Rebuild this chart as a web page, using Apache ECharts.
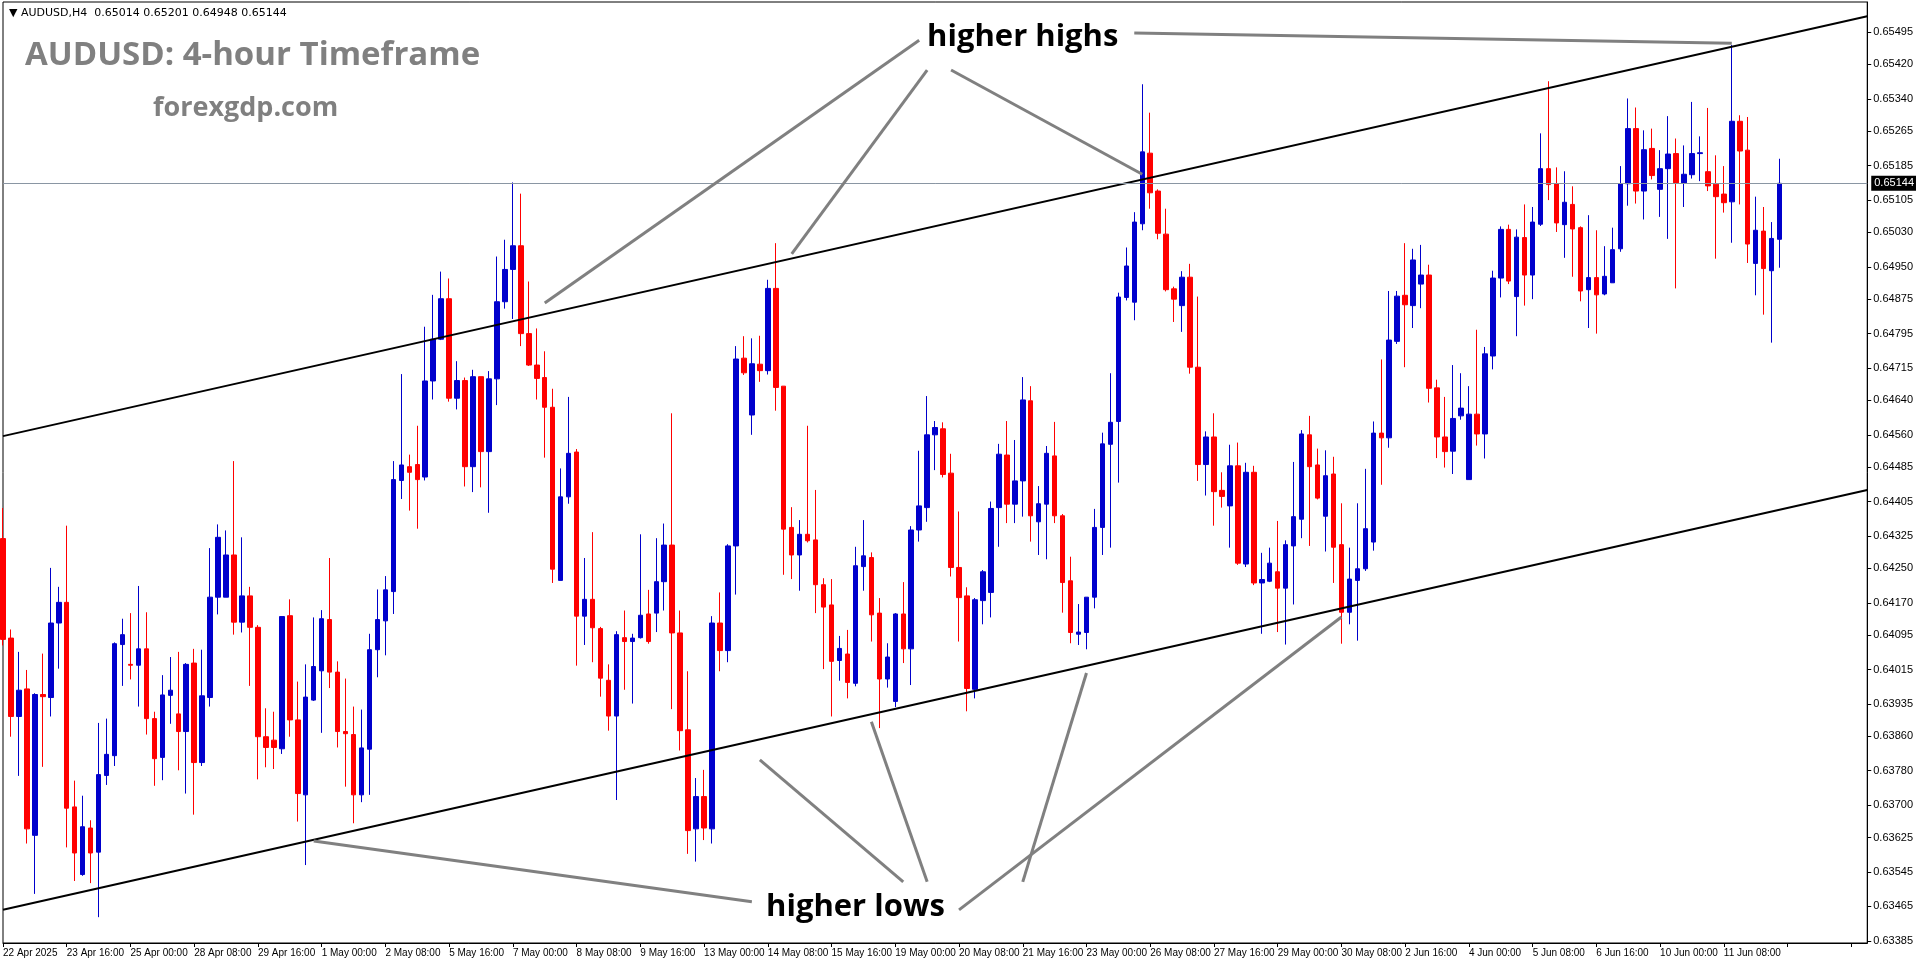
<!DOCTYPE html>
<html><head><meta charset="utf-8">
<script src="https://cdn.jsdelivr.net/npm/echarts@6/dist/echarts.min.js"></script>
<style>html,body{margin:0;padding:0;background:#fff}#c{width:1916px;height:964px}</style>
</head><body><div id="c"></div>
<script>
const xLabels = ["22 Apr 2025","23 Apr 16:00","25 Apr 00:00","28 Apr 08:00","29 Apr 16:00","1 May 00:00","2 May 08:00","5 May 16:00","7 May 00:00","8 May 08:00","9 May 16:00","13 May 00:00","14 May 08:00","15 May 16:00","19 May 00:00","20 May 08:00","21 May 16:00","23 May 00:00","26 May 08:00","27 May 16:00","29 May 00:00","30 May 08:00","2 Jun 16:00","4 Jun 00:00","5 Jun 08:00","6 Jun 16:00","10 Jun 00:00","11 Jun 08:00"];
const priceTicks = [0.63385,0.63465,0.63545,0.63625,0.63700,0.63780,0.63860,0.63935,0.64015,0.64095,0.64170,0.64250,0.64325,0.64405,0.64485,0.64560,0.64640,0.64715,0.64795,0.64875,0.64950,0.65030,0.65105,0.65185,0.65265,0.65340,0.65420,0.65495];
const lastPrice = 0.65144;
// [open, high, low, close]
const candles = [
[0.64319,0.64390,0.64071,0.64085],[0.64088,0.64108,0.63859,0.63906],[0.63906,0.64056,0.63768,0.63967],[0.63970,0.64014,0.63611,0.63645],
[0.63630,0.63960,0.63494,0.63957],[0.63957,0.64052,0.63789,0.63952],[0.63950,0.64251,0.63906,0.64123],[0.64123,0.64207,0.64017,0.64171],
[0.64171,0.64349,0.63602,0.63693],[0.63696,0.63757,0.63524,0.63589],[0.63539,0.63722,0.63536,0.63650],[0.63647,0.63665,0.63519,0.63589],
[0.63591,0.63891,0.63440,0.63771],[0.63769,0.63901,0.63747,0.63818],[0.63815,0.64078,0.63791,0.64075],[0.64073,0.64133,0.63977,0.64096],
[0.64027,0.64146,0.63992,0.64025],[0.64025,0.64209,0.63929,0.64063],[0.64063,0.64148,0.63864,0.63901],[0.63901,0.63917,0.63745,0.63808],
[0.63811,0.64002,0.63758,0.63956],[0.63955,0.64044,0.63889,0.63967],[0.63912,0.64056,0.63781,0.63871],[0.63871,0.64030,0.63727,0.64027],
[0.64030,0.64063,0.63678,0.63799],[0.63799,0.64061,0.63791,0.63954],[0.63950,0.64297,0.63929,0.64183],[0.64183,0.64352,0.64143,0.64322],
[0.64183,0.64338,0.64183,0.64281],[0.64281,0.64499,0.64096,0.64125],[0.64125,0.64322,0.64101,0.64186],[0.64186,0.64207,0.63977,0.64113],
[0.64113,0.64118,0.63760,0.63859],[0.63859,0.63925,0.63788,0.63834],[0.63851,0.63917,0.63784,0.63834],[0.63831,0.64138,0.63819,0.64138],
[0.64140,0.64178,0.63859,0.63898],[0.63898,0.63987,0.63662,0.63727],[0.63724,0.64027,0.63561,0.63951],[0.63944,0.64136,0.63942,0.64022],
[0.64012,0.64153,0.63868,0.64133],[0.64131,0.64274,0.63972,0.64009],[0.64009,0.64034,0.63834,0.63871],[0.63871,0.63994,0.63743,0.63866],
[0.63864,0.63929,0.63658,0.63724],[0.63724,0.63922,0.63707,0.63833],[0.63830,0.64098,0.63724,0.64061],[0.64061,0.64201,0.63997,0.64131],
[0.64128,0.64232,0.64048,0.64200],[0.64196,0.64499,0.64144,0.64456],[0.64454,0.64701,0.64411,0.64490],[0.64486,0.64514,0.64384,0.64473],
[0.64491,0.64581,0.64342,0.64456],[0.64462,0.64811,0.64454,0.64685],[0.64685,0.64885,0.64642,0.64782],[0.64782,0.64939,0.64780,0.64876],
[0.64876,0.64923,0.64637,0.64645],[0.64645,0.64731,0.64619,0.64686],[0.64686,0.64693,0.64440,0.64486],[0.64486,0.64711,0.64427,0.64695],
[0.64695,0.64695,0.64438,0.64521],[0.64521,0.64708,0.64379,0.64690],[0.64690,0.64974,0.64629,0.64869],[0.64869,0.65013,0.64853,0.64944],
[0.64944,0.65146,0.64829,0.64999],[0.64999,0.65120,0.64766,0.64795],[0.64795,0.64916,0.64720,0.64722],[0.64722,0.64807,0.64642,0.64691],
[0.64693,0.64754,0.64507,0.64624],[0.64624,0.64667,0.64216,0.64248],[0.64222,0.64482,0.64222,0.64416],[0.64416,0.64648,0.64400,0.64517],
[0.64520,0.64527,0.64024,0.64139],[0.64139,0.64274,0.64072,0.64178],[0.64178,0.64334,0.64032,0.64112],[0.64110,0.64114,0.63952,0.63995],
[0.63990,0.64027,0.63873,0.63907],[0.63907,0.64104,0.63712,0.64096],[0.64089,0.64152,0.63968,0.64080],[0.64080,0.64098,0.63936,0.64088],
[0.64089,0.64329,0.64087,0.64141],[0.64144,0.64200,0.64075,0.64080],[0.64146,0.64320,0.64102,0.64219],[0.64219,0.64354,0.64152,0.64304],
[0.64304,0.64610,0.63923,0.64100],[0.64100,0.64152,0.63827,0.63873],[0.63875,0.64011,0.63587,0.63641],[0.63645,0.63763,0.63569,0.63720],
[0.63720,0.63782,0.63619,0.63647],[0.63645,0.64139,0.63611,0.64123],[0.64123,0.64194,0.64011,0.64059],[0.64059,0.64306,0.64032,0.64302],
[0.64302,0.64766,0.64189,0.64736],[0.64738,0.64789,0.64699,0.64704],[0.64606,0.64784,0.64560,0.64725],[0.64724,0.64790,0.64683,0.64709],
[0.64709,0.64920,0.64700,0.64900],[0.64900,0.65005,0.64616,0.64670],[0.64673,0.64673,0.64235,0.64341],[0.64345,0.64392,0.64225,0.64281],
[0.64281,0.64362,0.64198,0.64329],[0.64329,0.64581,0.64310,0.64314],[0.64316,0.64432,0.64146,0.64212],[0.64212,0.64227,0.64016,0.64160],
[0.64165,0.64225,0.63906,0.64034],[0.64036,0.64093,0.63989,0.64064],[0.64051,0.64107,0.63948,0.63985],[0.63983,0.64300,0.63976,0.64256],
[0.64254,0.64362,0.64198,0.64279],[0.64275,0.64287,0.64080,0.64142],[0.64146,0.64181,0.63879,0.63993],[0.63993,0.64076,0.63973,0.64044],
[0.63941,0.64146,0.63928,0.64144],[0.64144,0.64218,0.64030,0.64063],[0.64063,0.64348,0.63979,0.64339],[0.64339,0.64523,0.64312,0.64395],
[0.64391,0.64650,0.64358,0.64560],[0.64560,0.64592,0.64478,0.64577],[0.64574,0.64589,0.64461,0.64468],[0.64471,0.64516,0.64231,0.64252],
[0.64252,0.64382,0.64080,0.64182],[0.64186,0.64206,0.63918,0.63971],[0.63969,0.64181,0.63948,0.64177],[0.64175,0.64246,0.64120,0.64242],
[0.64194,0.64405,0.64136,0.64389],[0.64391,0.64539,0.64300,0.64515],[0.64513,0.64592,0.64355,0.64399],[0.64399,0.64548,0.64355,0.64453],
[0.64453,0.64694,0.64370,0.64641],[0.64639,0.64673,0.64312,0.64372],[0.64358,0.64441,0.64281,0.64400],[0.64399,0.64534,0.64271,0.64517],
[0.64511,0.64590,0.64355,0.64372],[0.64372,0.64376,0.64147,0.64217],[0.64221,0.64277,0.64076,0.64101],[0.64097,0.64167,0.64072,0.64102],
[0.64101,0.64183,0.64062,0.64183],[0.64183,0.64388,0.64157,0.64345],[0.64345,0.64565,0.64281,0.64539],[0.64538,0.64703,0.64298,0.64589],
[0.64591,0.64890,0.64449,0.64880],[0.64879,0.64995,0.64872,0.64952],[0.64868,0.65077,0.64826,0.65054],[0.65050,0.65374,0.65035,0.65217],
[0.65214,0.65308,0.65085,0.65122],[0.65126,0.65130,0.65014,0.65028],[0.65026,0.65085,0.64893,0.64897],[0.64899,0.64904,0.64822,0.64875],
[0.64860,0.64940,0.64799,0.64926],[0.64926,0.64957,0.64702,0.64717],[0.64717,0.64881,0.64453,0.64491],[0.64491,0.64568,0.64419,0.64555],
[0.64555,0.64610,0.64349,0.64428],[0.64431,0.64473,0.64391,0.64417],[0.64395,0.64537,0.64298,0.64488],[0.64488,0.64542,0.64258,0.64262],
[0.64260,0.64495,0.64253,0.64473],[0.64473,0.64488,0.64211,0.64216],[0.64216,0.64286,0.64098,0.64224],[0.64220,0.64298,0.64218,0.64262],
[0.64242,0.64360,0.64102,0.64204],[0.64204,0.64315,0.64073,0.64305],[0.64302,0.64497,0.64166,0.64370],[0.64364,0.64571,0.64320,0.64562],
[0.64560,0.64604,0.64302,0.64486],[0.64490,0.64528,0.64410,0.64413],[0.64371,0.64524,0.64289,0.64465],[0.64469,0.64509,0.64216,0.64299],
[0.64305,0.64401,0.64075,0.64148],[0.64148,0.64298,0.64120,0.64225],[0.64222,0.64401,0.64082,0.64249],[0.64249,0.64481,0.64244,0.64342],
[0.64311,0.64591,0.64291,0.64564],[0.64564,0.64735,0.64444,0.64553],[0.64553,0.64894,0.64530,0.64780],[0.64777,0.64894,0.64771,0.64882],
[0.64884,0.65005,0.64717,0.64862],[0.64860,0.64992,0.64808,0.64966],[0.64910,0.65001,0.64854,0.64931],[0.64931,0.64955,0.64635,0.64668],
[0.64669,0.64688,0.64506,0.64555],[0.64555,0.64648,0.64484,0.64521],[0.64522,0.64722,0.64469,0.64598],[0.64604,0.64703,0.64595,0.64622],
[0.64456,0.64673,0.64456,0.64608],[0.64608,0.64804,0.64535,0.64562],[0.64562,0.64764,0.64505,0.64748],[0.64743,0.64941,0.64712,0.64924],
[0.64924,0.65044,0.64879,0.65037],[0.65037,0.65048,0.64910,0.64917],[0.64881,0.65037,0.64789,0.65019],[0.65018,0.65095,0.64860,0.64931],
[0.64931,0.65089,0.64875,0.65054],[0.65049,0.65260,0.65045,0.65178],[0.65178,0.65381,0.65105,0.65141],[0.65143,0.65181,0.65031,0.65052],
[0.65048,0.65172,0.64971,0.65100],[0.65095,0.65137,0.64927,0.65038],[0.65041,0.65044,0.64870,0.64894],[0.64897,0.65070,0.64808,0.64925],
[0.64925,0.65035,0.64795,0.64885],[0.64887,0.64998,0.64884,0.64928],[0.64913,0.65041,0.64913,0.64990],[0.64992,0.65184,0.64985,0.65143],
[0.65143,0.65341,0.65092,0.65271],[0.65271,0.65320,0.65097,0.65126],[0.65126,0.65267,0.65060,0.65222],[0.65225,0.65271,0.65153,0.65162],
[0.65130,0.65221,0.65066,0.65178],[0.65178,0.65300,0.65015,0.65212],[0.65213,0.65248,0.64900,0.65145],[0.65145,0.65232,0.65089,0.65165],
[0.65164,0.65333,0.65155,0.65213],[0.65213,0.65253,0.65149,0.65215],[0.65171,0.65319,0.65126,0.65138],[0.65142,0.65209,0.64969,0.65113],
[0.65119,0.65184,0.65076,0.65099],[0.65101,0.65465,0.65006,0.65288],[0.65288,0.65302,0.65095,0.65219],[0.65221,0.65298,0.64959,0.65003],
[0.64958,0.65113,0.64884,0.65035],[0.65033,0.65089,0.64839,0.64946],[0.64941,0.65054,0.64774,0.65016],[0.65014,0.65201,0.64948,0.65144]
];
// channel trendlines [index, price]
const upperChannel = [[0,0.64557],[234,0.65532]];
const lowerChannel = [[0,0.63457],[234,0.64432]];
const highNotes = [[[114.9,0.65476],[67.9,0.64866]],[[116.4,0.65407],[98.5,0.64980]],[[118.9,0.65407],[143.0,0.65165]],[[142.1,0.65493],[217.2,0.65469]]];
const lowNotes = [[[93.5,0.63476],[38.8,0.63617]],[[112.7,0.63522],[95.1,0.63805]],[[116.2,0.63522],[109.4,0.63894]],[[128.1,0.63522],[135.7,0.64007]],[[119.9,0.63457],[167.9,0.64137]]];

const N = 235;
const cats = Array.from({length:N},(_, i)=>String(i));
const kData = candles.map(r=>[r[0],r[3],r[2],r[1]]);
while (kData.length < N) kData.push('-');

const axisFont = "'Liberation Sans',sans-serif";
const noteLines = highNotes.concat(lowNotes).map(p=>[{coord:[p[0][0],p[0][1]]},{coord:[p[1][0],p[1][1]]}]);
const chart = echarts.init(document.getElementById('c'));
chart.setOption({
  animation:false,
  backgroundColor:'#fff',
  title:[
    {text:'\u25BC AUDUSD,H4  0.65014 0.65201 0.64948 0.65144', left:4, top:3, textStyle:{fontSize:11,fontWeight:'normal',color:'#000',fontFamily:'DejaVu Sans'}},
    {text:'AUDUSD: 4-hour Timeframe', left:20, top:34, textStyle:{fontSize:33,fontWeight:'bold',color:'#808080',fontFamily:'Open Sans'}},
    {text:'forexgdp.com', left:148, top:90, textStyle:{fontSize:27,fontWeight:'bold',color:'#808080',fontFamily:'Open Sans'}}
  ],
  grid:{left:2,top:2,right:46,bottom:21,show:true,borderColor:'#000',borderWidth:1},
  xAxis:{type:'category',data:cats,boundaryGap:false,
    axisLine:{lineStyle:{color:'#000'}},
    axisTick:{interval:7,length:4,lineStyle:{color:'#000'}},
    axisLabel:{interval:7,align:'left',margin:5,fontSize:10,fontFamily:axisFont,color:'#000',
      formatter:(v,i)=>xLabels[Math.round(i/8)]||''},
    splitLine:{show:false}},
  yAxis:{type:'value',position:'right',min:0.63380,max:0.65565,
    axisLine:{show:true,lineStyle:{color:'#000'}},
    axisTick:{show:true,customValues:priceTicks,length:4,lineStyle:{color:'#000'}},
    axisLabel:{customValues:priceTicks,fontSize:11,fontFamily:axisFont,color:'#000',margin:6,formatter:v=>v.toFixed(5)},
    splitLine:{show:false}},
  series:[
    {type:'candlestick',data:kData,barWidth:5,
      itemStyle:{color:'#0000CC',color0:'#FF0000',borderColor:'#0000CC',borderColor0:'#FF0000',borderWidth:1}},
    {type:'line',data:upperChannel,symbol:'none',lineStyle:{color:'#000',width:2},silent:true,
      markLine:{symbol:'none',silent:true,animation:false,
        data:[[{coord:[0,lastPrice]},{coord:[N-1,lastPrice],lineStyle:{color:'#8a96a3',width:1,type:'solid'},
          label:{show:true,position:'end',formatter:lastPrice.toFixed(5),color:'#fff',backgroundColor:'#000',padding:[2,3],fontSize:11,fontFamily:axisFont,distance:4}}]],
        lineStyle:{color:'#8a96a3',width:1,type:'solid'}}},
    {type:'line',data:lowerChannel,symbol:'none',lineStyle:{color:'#000',width:2},silent:true},
    {type:'scatter',data:[],silent:true,
      markLine:{symbol:'none',silent:true,label:{show:false},lineStyle:{color:'#808080',width:3,type:'solid'},data:noteLines},
      markPoint:{symbol:'rect',symbolSize:1,silent:true,itemStyle:{color:'rgba(0,0,0,0)'},data:[
        {coord:[128.3,0.65483],label:{show:true,position:'inside',formatter:'higher highs',fontSize:31,fontWeight:'bold',color:'#000',fontFamily:'Open Sans'}},
        {coord:[106.5,0.63464],label:{show:true,position:'inside',formatter:'higher lows',fontSize:31,fontWeight:'bold',color:'#000',fontFamily:'Open Sans'}}
      ]}}
  ]
});
</script></body></html>
